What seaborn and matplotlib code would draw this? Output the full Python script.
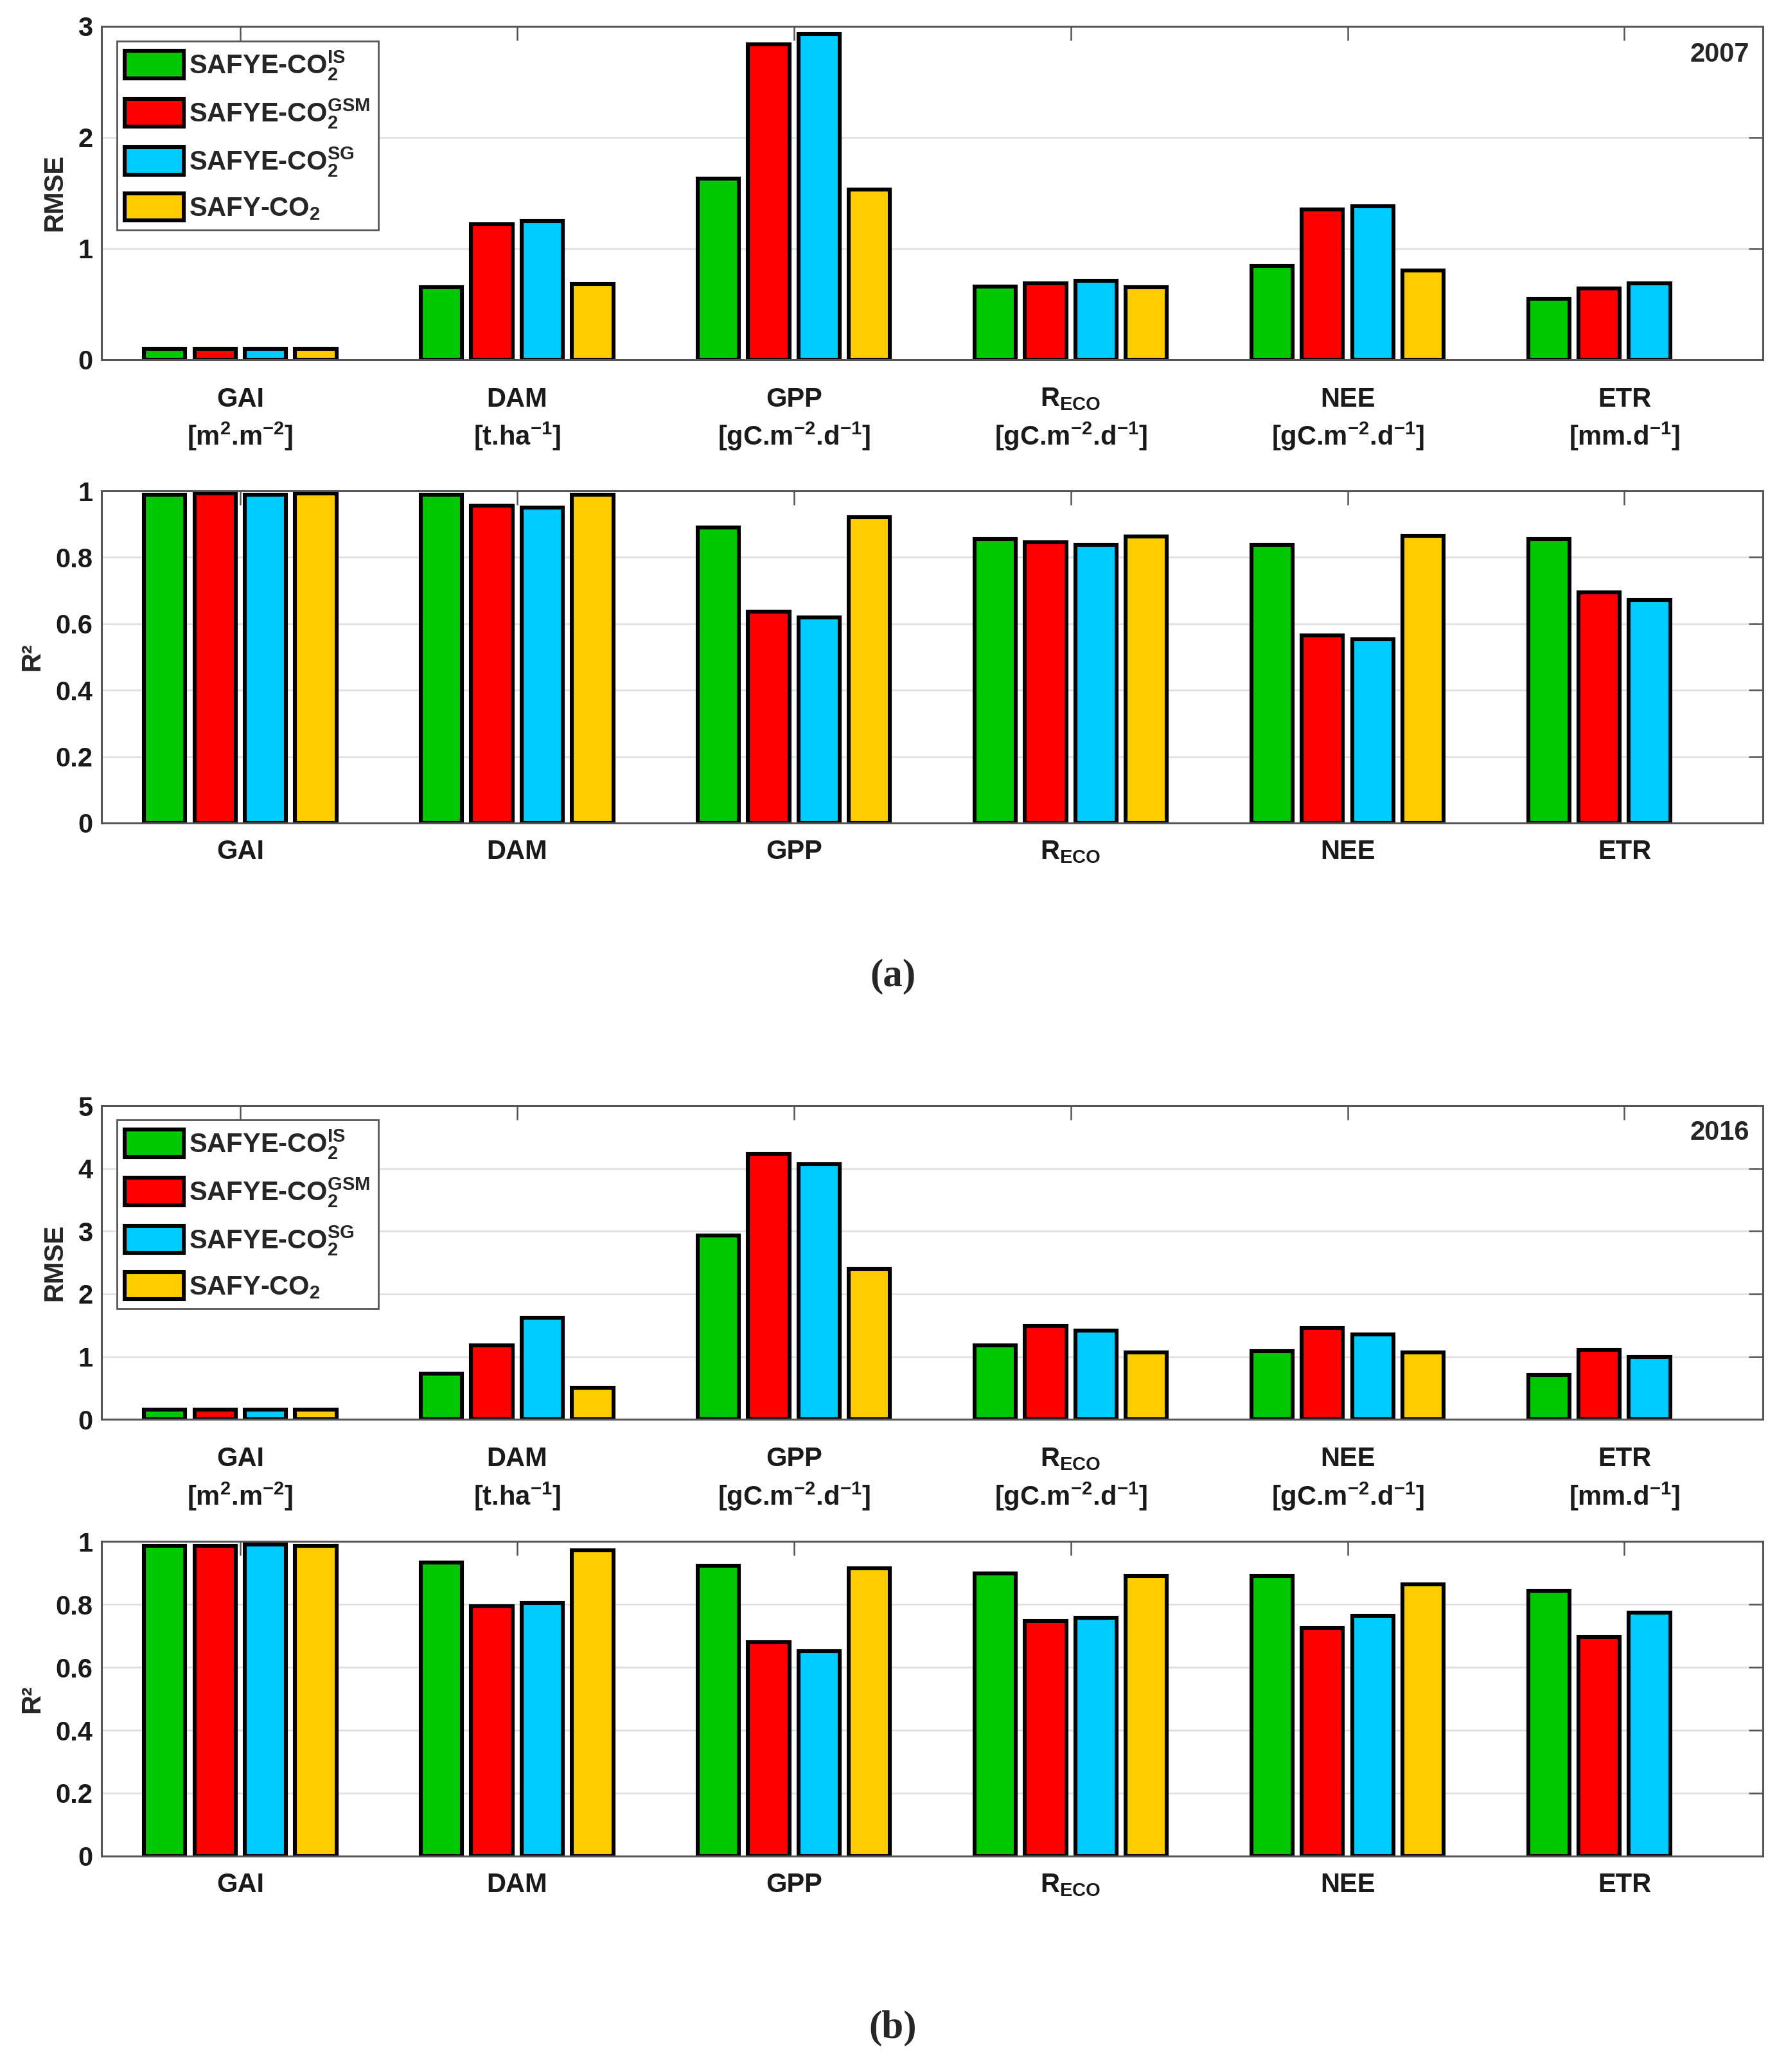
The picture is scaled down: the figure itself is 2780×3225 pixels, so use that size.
import numpy as np
import pandas as pd
import matplotlib
matplotlib.use('Agg')
import matplotlib.pyplot as plt
from matplotlib.patches import Patch
from matplotlib.ticker import FuncFormatter
import seaborn as sns

variables = ['GAI', 'DAM', 'GPP', 'RECO', 'NEE', 'ETR']
models = ['SAFYE-CO2 IS', 'SAFYE-CO2 GSM', 'SAFYE-CO2 SG', 'SAFY-CO2']
model_labels = [r'SAFYE-CO$_2^{IS}$', r'SAFYE-CO$_2^{GSM}$', r'SAFYE-CO$_2^{SG}$', r'SAFY-CO$_2$']
colors = ['#00C800', '#FF0000', '#00CCFF', '#FFCC00']

unit_labels = ['GAI\n[m$^2$.m$^{-2}$]', 'DAM\n[t.ha$^{-1}$]', 'GPP\n[gC.m$^{-2}$.d$^{-1}$]',
               'R$_{ECO}$\n[gC.m$^{-2}$.d$^{-1}$]', 'NEE\n[gC.m$^{-2}$.d$^{-1}$]', 'ETR\n[mm.d$^{-1}$]']
short_labels = ['GAI', 'DAM', 'GPP', 'R$_{ECO}$', 'NEE', 'ETR']

# 2007
rmse_2007_is = [0.10, 0.65, 1.63, 0.66, 0.845, 0.55]
rmse_2007_gsm = [0.10, 1.22, 2.84, 0.685, 1.35, 0.64]
rmse_2007_sg = [0.10, 1.25, 2.93, 0.71, 1.38, 0.685]
rmse_2007_safy = [0.10, 0.68, 1.53, 0.65, 0.80, np.nan]

r2_2007_is = [0.988, 0.988, 0.89, 0.855, 0.837, 0.855]
r2_2007_gsm = [0.992, 0.955, 0.637, 0.845, 0.565, 0.695]
r2_2007_sg = [0.988, 0.95, 0.619, 0.837, 0.553, 0.672]
r2_2007_safy = [0.992, 0.988, 0.92, 0.862, 0.865, np.nan]

# 2016
rmse_2016_is = [0.16, 0.73, 2.93, 1.18, 1.09, 0.71]
rmse_2016_gsm = [0.16, 1.18, 4.23, 1.49, 1.46, 1.11]
rmse_2016_sg = [0.16, 1.62, 4.07, 1.42, 1.35, 0.995]
rmse_2016_safy = [0.16, 0.50, 2.40, 1.07, 1.07, np.nan]

r2_2016_is = [0.985, 0.932, 0.922, 0.898, 0.889, 0.842]
r2_2016_gsm = [0.985, 0.795, 0.679, 0.747, 0.724, 0.695]
r2_2016_sg = [0.99, 0.805, 0.652, 0.757, 0.763, 0.773]
r2_2016_safy = [0.985, 0.971, 0.915, 0.889, 0.863, np.nan]

sns.set_style('white')
plt.rcParams['font.family'] = ['Liberation Sans', 'DejaVu Sans']
plt.rcParams['mathtext.fontset'] = 'custom'
plt.rcParams['mathtext.default'] = 'regular'

FS = 15


def long_df(series):
    parts = []
    for m, vals in zip(models, series):
        parts.append(pd.DataFrame({'variable': variables, 'model': m, 'value': vals}))
    return pd.concat(parts).dropna()


def draw_panel(ax, series, ymax, ylabel, xlabels, year=None):
    df = long_df(series)
    sns.barplot(data=df, x='variable', y='value', hue='model', order=variables,
                hue_order=models, palette=colors, saturation=1, width=0.728, gap=0.18,
                edgecolor='black', linewidth=2.2, errorbar=None, legend=False, ax=ax)
    ax.set_xlim(-0.5, 5.5)
    ax.set_ylim(0, ymax)
    if ymax == 1:
        ax.set_yticks([0, 0.2, 0.4, 0.6, 0.8, 1])
    else:
        ax.set_yticks(range(0, ymax + 1))
    ax.yaxis.set_major_formatter(FuncFormatter(lambda v, p: '{:g}'.format(v)))
    ax.set_xticks(range(len(variables)))
    ax.set_xticklabels(xlabels, fontsize=FS, fontweight='bold', linespacing=1.35)
    for lab in ax.get_yticklabels():
        lab.set_fontsize(FS)
        lab.set_fontweight('bold')
    ax.set_xlabel('')
    ax.set_ylabel(ylabel, fontsize=FS, fontweight='bold', labelpad=6)
    ax.yaxis.grid(True, color='#E2E2E2', linewidth=1.0)
    ax.set_axisbelow(True)
    ax.tick_params(axis='both', direction='in', top=True, right=True, length=8,
                   width=0.9, color='#555555', labelcolor='#1a1a1a')
    ax.tick_params(axis='x', pad=15 if year is not None else 9)
    ax.tick_params(axis='y', pad=5)
    for sp in ax.spines.values():
        sp.set_color('#555555')
        sp.set_linewidth(1.1)
    if year is not None:
        ax.text(0.992, 0.915, year, transform=ax.transAxes, ha='right', va='center',
                fontsize=FS, fontweight='bold')
        handles = [Patch(facecolor=c, edgecolor='black', linewidth=2.2) for c in colors]
        leg = ax.legend(handles, model_labels, loc='upper left', bbox_to_anchor=(0.009, 0.956),
                        borderaxespad=0, fancybox=False, framealpha=1, edgecolor='#555555',
                        prop={'size': FS, 'weight': 'bold'}, handlelength=2.2, handleheight=1.2,
                        labelspacing=0.55, handletextpad=0.2, borderpad=0.3)
        leg.get_frame().set_linewidth(1.0)


fig = plt.figure(figsize=(13.9, 16.125), dpi=200)
left, width = 0.057, 0.930
ax1 = fig.add_axes([left, 0.8264, width, 0.1609])
ax2 = fig.add_axes([left, 0.6028, width, 0.1603])
ax3 = fig.add_axes([left, 0.3150, width, 0.1513])
ax4 = fig.add_axes([left, 0.1042, width, 0.1519])

draw_panel(ax1, [rmse_2007_is, rmse_2007_gsm, rmse_2007_sg, rmse_2007_safy], 3, 'RMSE', unit_labels, '2007')
draw_panel(ax2, [r2_2007_is, r2_2007_gsm, r2_2007_sg, r2_2007_safy], 1, 'R²', short_labels)
draw_panel(ax3, [rmse_2016_is, rmse_2016_gsm, rmse_2016_sg, rmse_2016_safy], 5, 'RMSE', unit_labels, '2016')
draw_panel(ax4, [r2_2016_is, r2_2016_gsm, r2_2016_sg, r2_2016_safy], 1, 'R²', short_labels)

fig.text(0.5, 1 - 1520 / 3225, '(a)', ha='center', va='center', fontsize=22,
         family='Liberation Serif', fontweight='bold')
fig.text(0.5, 1 - 3157 / 3225, '(b)', ha='center', va='center', fontsize=22,
         family='Liberation Serif', fontweight='bold')

fig.savefig('out.png', dpi=200)
